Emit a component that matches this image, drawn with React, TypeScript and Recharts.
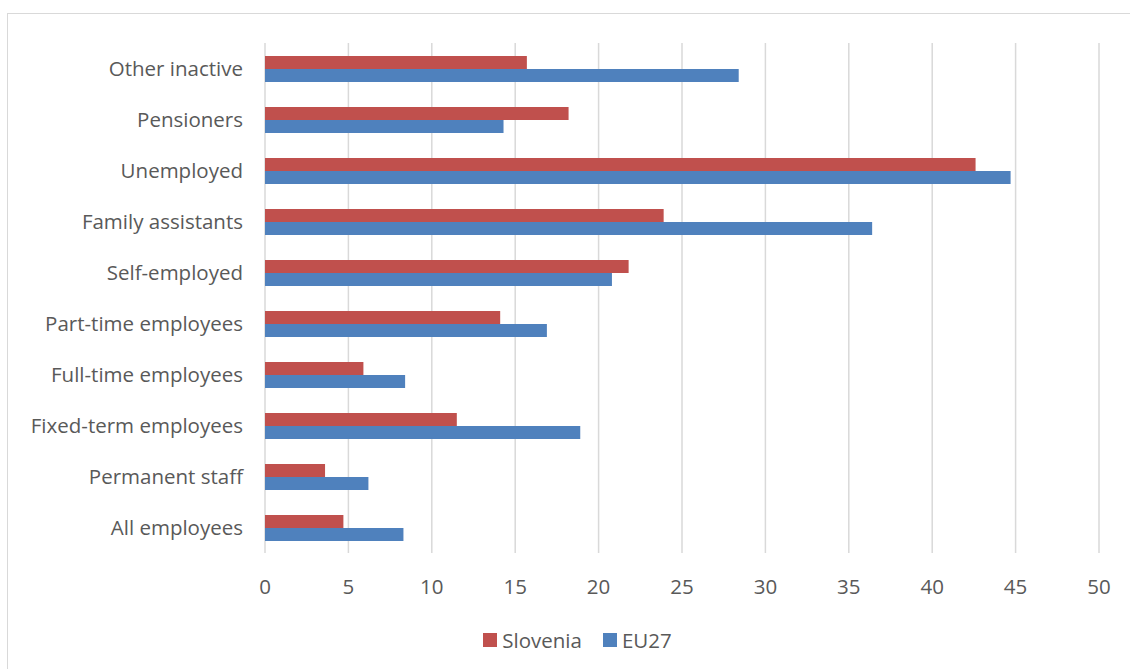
import { BarChart, Bar, XAxis, YAxis, CartesianGrid, Legend } from "recharts";

const categories = [
  "Other inactive",
  "Pensioners",
  "Unemployed",
  "Family assistants",
  "Self-employed",
  "Part-time employees",
  "Full-time employees",
  "Fixed-term employees",
  "Permanent staff",
  "All employees",
];
const slovenia = [15.7, 18.2, 42.6, 23.9, 21.8, 14.1, 5.9, 11.5, 3.6, 4.7];
const eu27 = [28.4, 14.3, 44.7, 36.4, 20.8, 16.9, 8.4, 18.9, 6.2, 8.3];
const xTicks = [0, 5, 10, 15, 20, 25, 30, 35, 40, 45, 50];

const RED = "#c0504d";
const BLUE = "#4f81bd";
const TEXT = "#595959";
const FONT = "'Open Sans', 'Noto Sans', sans-serif";

const data = categories.map((name, i) => ({ name, Slovenia: slovenia[i], EU27: eu27[i] }));

function LegendBox() {
  const items = [
    { label: "Slovenia", color: RED },
    { label: "EU27", color: BLUE },
  ];
  return (
    <div
      style={{
        display: "flex",
        justifyContent: "center",
        gap: 21,
        paddingLeft: 46,
        fontFamily: FONT,
        fontSize: 20.5,
        color: TEXT,
      }}
    >
      {items.map((it) => (
        <div key={it.label} style={{ display: "flex", alignItems: "center", gap: 5 }}>
          <div style={{ width: 14, height: 14, background: it.color }} />
          <span>{it.label}</span>
        </div>
      ))}
    </div>
  );
}

export default function App() {
  return (
    <div style={{ position: "fixed", left: 0, top: 0, width: 1130, height: 669, background: "#fff", overflow: "hidden" }}>
      <div style={{ position: "absolute", left: 7, top: 13, width: 1140, height: 700, border: "1px solid #d9d9d9" }} />
      <div style={{ position: "absolute", left: 0, top: 0 }}>
        <BarChart
          layout="vertical"
          width={1130}
          height={669}
          data={data}
          margin={{ top: 43, right: 31, bottom: 0, left: 10 }}
          barSize={13}
          barGap={0}
        >
          <CartesianGrid horizontal={false} stroke="#d9d9d9" strokeWidth={1.5} />
          <XAxis
            type="number"
            domain={[0, 50]}
            ticks={xTicks}
            tickLine={false}
            axisLine={false}
            tickMargin={20}
            height={73}
            tick={{ fill: TEXT, fontSize: 20.5, fontFamily: FONT }}
          />
          <YAxis
            type="category"
            dataKey="name"
            width={255}
            tickLine={false}
            axisLine={false}
            tickMargin={16}
            tick={{ fill: TEXT, fontSize: 20.5, fontFamily: FONT }}
          />
          <Legend verticalAlign="bottom" height={43} content={() => <LegendBox />} />
          <Bar dataKey="Slovenia" fill={RED} isAnimationActive={false} />
          <Bar dataKey="EU27" fill={BLUE} isAnimationActive={false} />
        </BarChart>
      </div>
    </div>
  );
}
